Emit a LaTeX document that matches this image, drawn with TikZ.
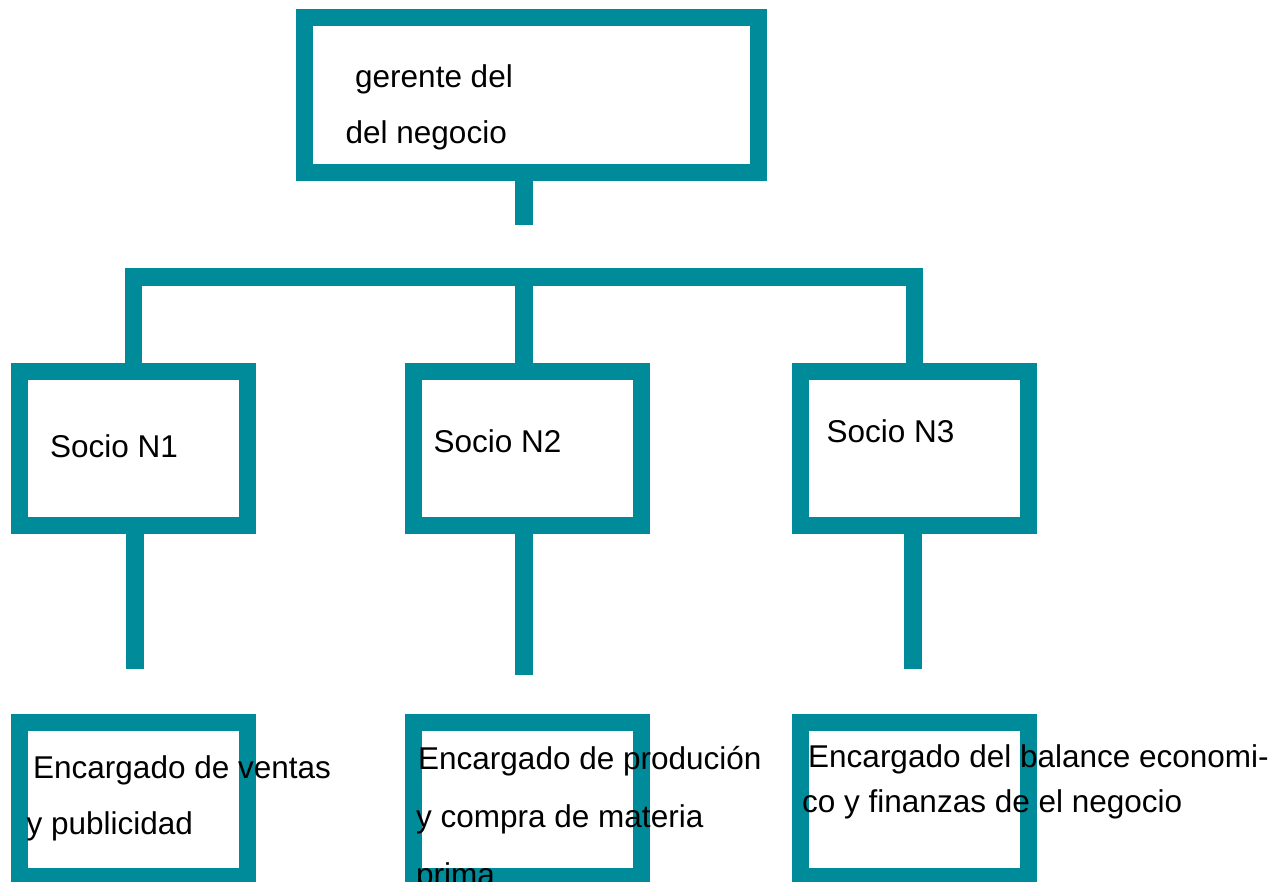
\documentclass[tikz,border=0pt]{standalone}
\usepackage{fontspec}
\setmainfont{Liberation Sans}
\usetikzlibrary{positioning}
\definecolor{orgteal}{RGB}{0,139,155}
\tikzset{
  chief/.style={
    rectangle, draw=orgteal, line width=17pt, inner sep=0pt,
    minimum width=454.5pt, minimum height=154.5pt
  },
  partner/.style={
    rectangle, draw=orgteal, line width=17pt, inner sep=0pt,
    minimum width=228pt, minimum height=154pt
  },
  link/.style={draw=orgteal, line width=17.5pt},
  txt/.style={anchor=base west, inner sep=0pt, font=\fontsize{31.5pt}{38pt}\selectfont}
}

\begin{document}
\begin{tikzpicture}[x=1pt, y=-1pt]
\useasboundingbox (0,0) rectangle (1273,881);
\clip (0,0) rectangle (1273,881);

% Top box
\node[chief] (boss) at (531.25,94.75) {};

% Partner boxes
\node[partner] (s1) at (133.5,448.5) {};
\node[partner, right=149pt of s1] (s2) {};
\node[partner, right=142pt of s2] (s3) {};

% Task boxes
\node[partner, below=180pt of s1] (e1) {};
\node[partner, below=180pt of s2] (e2) {};
\node[partner, below=180pt of s3] (e3) {};

% Connectors
\coordinate (t0) at (524,225);
\coordinate (bar) at (524,277);
\coordinate (d1) at (135,669);
\coordinate (d2) at (524,675);
\coordinate (d3) at (913,669);
\draw[link] (boss.south -| t0) -- (t0);
\draw[link] (s1.north) |- (bar) -| (s3.north);
\draw[link] (bar) -- (bar |- s2.north);
\draw[link] (s1.south -| d1) -- (d1);
\draw[link] (s2.south -| d2) -- (d2);
\draw[link] (s3.south -| d3) -- (d3);

% Texts
\node[txt] (g1) at (355,87.5) {gerente del};
\node[txt] (g2) at (345.5,143.5) {del negocio};
\node[txt] (n1) at (50,457.5) {Socio N1};
\node[txt] (n2) at (433.5,452) {Socio N2};
\node[txt] (n3) at (826.5,442) {Socio N3};
\node[txt] (v1) at (33,778) {Encargado de ventas};
\node[txt] (v2) at (26.5,834) {y publicidad};
\node[txt] (p1) at (418,769) {Encargado de produción};
\node[txt] (p2) at (416,827) {y compra de materia};
\node[txt] (p3) at (416,885) {prima};
\node[txt] (b1) at (808,767) {Encargado del balance economi-};
\node[txt] (b2) at (802,812) {co y finanzas de el negocio};

\end{tikzpicture}
\end{document}
